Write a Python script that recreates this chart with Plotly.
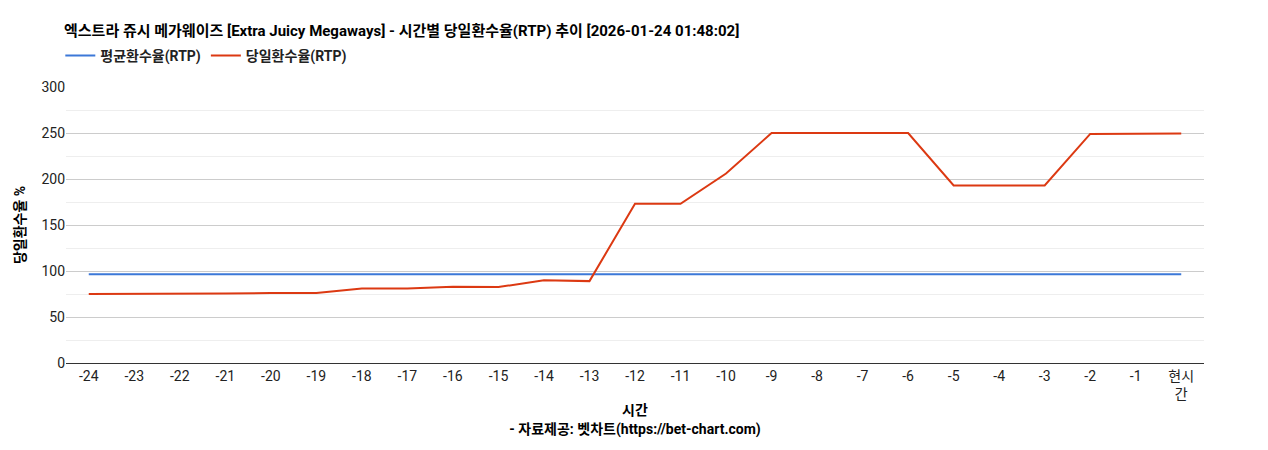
import plotly.graph_objects as go

FONT = "Roboto, 'Noto Sans CJK KR', sans-serif"

hours = [str(h) for h in range(-24, 0)] + ["현시<br>간"]
avg_rtp = [96.5] * 25
day_rtp = [75, 75, 75, 75.5, 76, 76, 81, 81, 83, 82.5, 90, 89,
           173, 173, 206, 250, 250, 250, 250, 193, 193, 193, 249, 249, 249.5]

fig = go.Figure()
fig.add_scatter(x=hours, y=avg_rtp, mode="lines", name="<b>평균환수율(RTP)</b>",
                line=dict(color="#3c78d8", width=2))
fig.add_scatter(x=hours, y=day_rtp, mode="lines", name="<b>당일환수율(RTP)</b>",
                line=dict(color="#dc3912", width=2))

fig.update_layout(
    width=1268,
    height=450,
    margin=dict(l=56, r=72, t=79, b=95),
    plot_bgcolor="white",
    paper_bgcolor="white",
    font=dict(family=FONT, size=14, color="#222"),
    title=dict(
        text="<b>엑스트라 쥬시 메가웨이즈 [Extra Juicy Megaways] - 시간별 당일환수율(RTP) 추이 [2026-01-24 01:48:02]</b>",
        x=56 / 1268, xanchor="left", y=1 - 23 / 450, yanchor="middle",
        font=dict(size=15, color="#000"),
    ),
    legend=dict(
        orientation="h", x=-0.005, xanchor="left", y=1.113, yanchor="middle",
        font=dict(size=14, color="#222"),
    ),
    xaxis=dict(
        type="category", range=[-0.5, 24.5], showgrid=False,
        showline=True, linecolor="#333", ticks="", tickfont=dict(color="#222"),
        title=dict(text="<b>시간</b><br><b>- 자료제공: 벳차트(https://bet-chart.com)</b>",
                   standoff=4, font=dict(size=14, color="#000")),
    ),
    yaxis=dict(
        range=[0, 300], dtick=50, gridcolor="#ccc", zeroline=False,
        minor=dict(dtick=25, showgrid=True, gridcolor="#eee"),
        title=dict(text="<b>당일환수율 %</b>", standoff=12, font=dict(size=14, color="#000")),
    ),
)

fig.write_html("out.html")
